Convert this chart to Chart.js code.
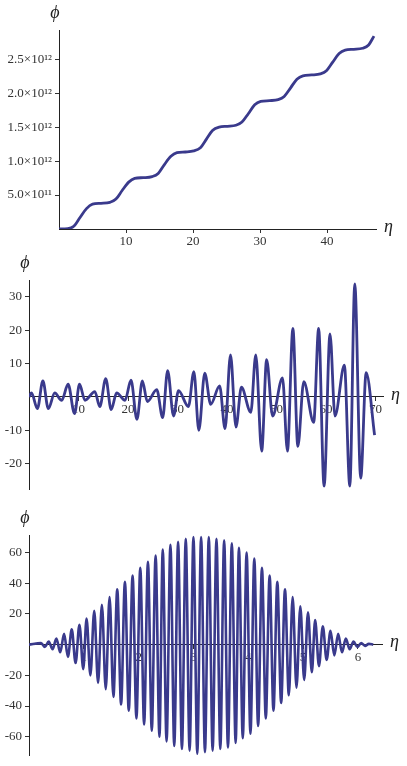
<!DOCTYPE html>
<html><head><meta charset="utf-8">
<script src="https://cdn.jsdelivr.net/npm/chart.js@4"></script>
<style>body{margin:0;background:#fff}div{position:relative;width:407px}</style>
</head><body>
<div style="height:250px"><canvas id="c1"></canvas></div>
<div style="height:250px"><canvas id="c2"></canvas></div>
<div style="height:266px"><canvas id="c3"></canvas></div>
<script>
// Chart 1 (values in units of 1e12)
const x1 = [0,1.3,2.2,3.14,4.1,5.0,6.28,7.6,8.5,9.42,10.4,11.3,12.57,13.9,14.8,15.7,16.7,17.6,18.85,20.1,21.1,22.0,22.9,23.9,25.13,26.4,27.3,28.27,29.2,30.1,31.42,32.7,33.6,34.56,35.5,36.4,37.7,39.0,39.9,40.84,41.8,42.7,43.98,45.3,46.2,47.0];
const y1 = [0,0.005,0.04,0.17,0.30,0.365,0.378,0.393,0.44,0.567,0.69,0.745,0.756,0.771,0.818,0.945,1.07,1.123,1.134,1.149,1.196,1.323,1.45,1.50,1.512,1.527,1.574,1.701,1.828,1.878,1.89,1.905,1.952,2.079,2.206,2.256,2.268,2.283,2.33,2.457,2.584,2.634,2.646,2.661,2.71,2.84];
const yTicks1 = [0.5,1.0,1.5,2.0,2.5];
const yTickLabels1 = ['5.0×10¹¹','1.0×10¹²','1.5×10¹²','2.0×10¹²','2.5×10¹²'];
const xTicks1 = [10,20,30,40];
// Chart 2
const x2 = [0,0.5,1.7,2.8,3.9,5.2,6.6,7.9,9.2,10.2,11.3,13.3,14.3,15.5,16.6,17.7,19.4,20.6,21.8,22.9,23.9,25.8,27,28,29.2,30.2,32.2,33.3,34.3,35.5,36.7,38.5,39.6,40.7,41.8,42.9,44.8,45.8,47,48,49.2,51.2,52.2,53.3,54.3,55.5,57.5,58.5,59.6,60.8,61.8,63.7,64.8,65.8,67,68.1,69.8];
const y2 = [0,1.2,-3.5,4.8,-3.5,1.2,-1,3.8,-5,3.8,-1,1.6,-2.9,5.5,-3.8,1.2,-1,5,-6.7,4.8,-1.4,2.2,-6.2,7.9,-5.7,1.9,-2.9,7.6,-10,7.1,-2.2,3.3,-9.5,12.6,-9,2.9,-4.6,12.6,-16.2,11.2,-5.7,5.7,-16.2,20.5,-14.8,4.6,-7.6,20.5,-26.7,18.9,-5.7,9.5,-26.7,33.8,-24.3,7.3,-11.4];
const xTicks2 = [10,20,30,40,50,60,70];
const yTicks2 = [-20,-10,10,20,30];
// Chart 3
const peakX3 = [0.22,0.36,0.50,0.64,0.78,0.92,1.05,1.19,1.33,1.47,1.61,1.75,1.89,2.03,2.17,2.31,2.44,2.58,2.72,2.86,3.00,3.14,3.28,3.42,3.56,3.70,3.83,3.97,4.11,4.25,4.39,4.53,4.67,4.81,4.95,5.09,5.22,5.36,5.50,5.64,5.78,5.92,6.06,6.20];
const peakY3 = [1,2,4,7,10,13,17,22,26,31,36,41,45,50,54,58,62,65,67,69,70,70,70,69,68,66,63,60,56,50,45,41,36,31,25,21,16,12,9,7,4,2,1,0.5];
const troughX3 = [0.29,0.43,0.57,0.71,0.85,0.99,1.12,1.26,1.40,1.54,1.68,1.82,1.96,2.10,2.24,2.38,2.51,2.65,2.79,2.93,3.07,3.21,3.35,3.49,3.63,3.77,3.90,4.04,4.18,4.32,4.46,4.60,4.74,4.88,5.02,5.16,5.29,5.43,5.57,5.71,5.85,5.99,6.13];
const troughY3 = [-1.5,-3,-5,-8,-12,-16,-20,-25,-29,-34,-39,-43,-48,-52,-56,-60,-63,-66,-68,-69,-71,-70,-69,-68,-67,-64,-61,-58,-53,-48,-43,-38,-33,-28,-23,-18,-14,-10,-7,-5,-3,-1.5,-0.8];
const xTicks3 = [1,2,3,4,5,6];
const yTicks3 = [-60,-40,-20,20,40,60];

const COLOR = 'rgb(58,58,140)';
const FONT = {family:'"Liberation Serif","DejaVu Serif",serif', size:13};

function pts(xs, ys){ return xs.map((x,i)=>({x, y: ys[i]})); }
const pts3 = [{x:0,y:0}];
for (let i=0;i<peakX3.length;i++){ pts3.push({x:peakX3[i],y:peakY3[i]}); if(i<troughX3.length) pts3.push({x:troughX3[i],y:troughY3[i]}); }
pts3.push({x:6.28,y:0});

const labelsPlugin = {
  id:'axlabels',
  afterDraw(chart){
    const ctx = chart.ctx, xs = chart.scales.x, ys = chart.scales.y;
    ctx.save();
    ctx.fillStyle = '#222';
    ctx.font = 'italic 18px "Liberation Serif","DejaVu Serif",serif';
    ctx.textAlign='center'; ctx.textBaseline='bottom';
    ctx.fillText('ϕ', ys.right-4, chart.chartArea.top-8);
    ctx.textAlign='left'; ctx.textBaseline='middle';
    ctx.fillText('η', chart.chartArea.right+8, ys.getPixelForValue(0)-2);
    ctx.restore();
  }
};

function make(id, data, o){
  new Chart(document.getElementById(id), {
    type:'line',
    data:{datasets:[{data, borderColor:COLOR, borderWidth:o.lw, pointRadius:0, cubicInterpolationMode:'monotone', fill:false}]},
    options:{
      responsive:true, maintainAspectRatio:false, animation:false,
      layout:{padding:o.pad},
      plugins:{legend:{display:false}, tooltip:{enabled:false}},
      scales:{
        x:{type:'linear', position: o.xpos, min:0, max:o.xmax,
          afterBuildTicks(s){ s.ticks = o.xticks.map(v=>({value:v})); },
          afterFit(s){ if(o.xh!==undefined) s.height=o.xh; },
          ticks:{font:FONT, color:'#333', maxRotation:0, autoSkip:false, padding:1},
          grid:{drawOnChartArea:false, tickLength:4, color:'#333'},
          border:{color:'#222', width:1}},
        y:{type:'linear', min:o.ymin, max:o.ymax,
          afterBuildTicks(s){ s.ticks = o.yticks.map(v=>({value:v})); },
          afterFit(s){ s.width=o.yw; },
          ticks:{font:FONT, color:'#333', autoSkip:false, padding:3, callback:o.ycb || (v=>String(v))},
          grid:{drawOnChartArea:false, tickLength:4, color:'#333'},
          border:{color:'#222', width:1}}
      }
    },
    plugins:[labelsPlugin]
  });
}

make('c1', pts(x1,y1), {lw:2.8, xmax:47.3, xticks:xTicks1, ymin:0, ymax:2.93, yticks:yTicks1, yw:59, xh:21, xpos:'bottom',
  pad:{top:30,right:31,bottom:0,left:0}, ycb:(v)=>yTickLabels1[yTicks1.indexOf(v)] });
make('c2', pts(x2,y2), {lw:2.8, xmax:71.5, xticks:xTicks2, ymin:-27.6, ymax:35, yticks:yTicks2, yw:29, xpos:{y:0},
  pad:{top:30,right:24,bottom:0,left:0}});
make('c3', pts3, {lw:2.6, xmax:6.44, xticks:xTicks3, ymin:-72, ymax:71.4, yticks:yTicks3, yw:29, xpos:{y:0},
  pad:{top:35,right:25,bottom:10,left:0}});
</script>
</body></html>
